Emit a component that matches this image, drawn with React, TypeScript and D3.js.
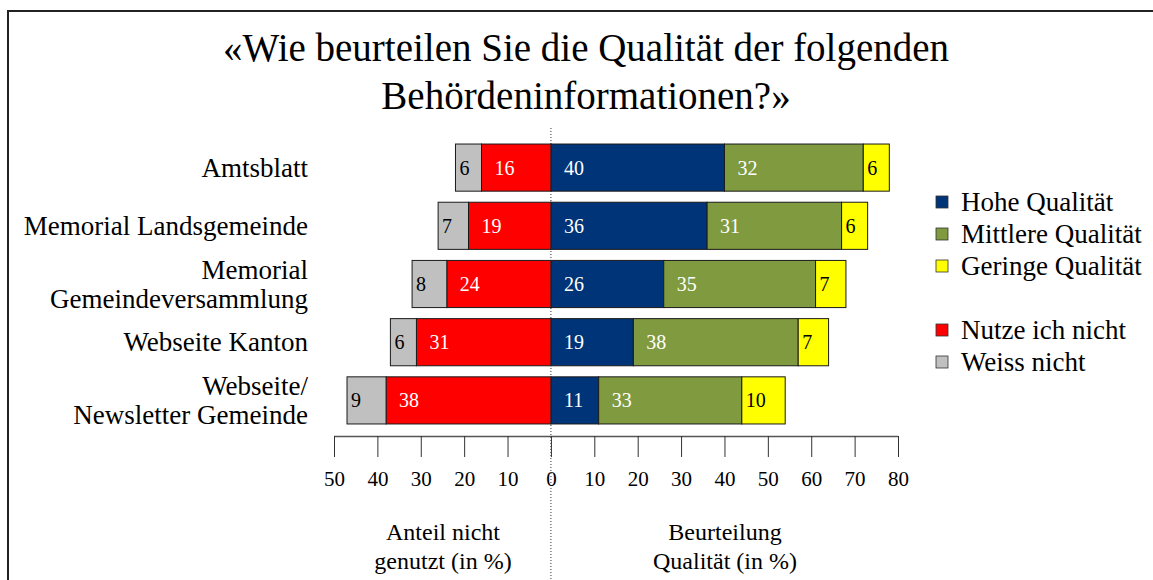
import React, { useRef, useEffect } from "react";
import * as d3 from "d3";

// categories (label lines split with "\n")
const categories = [
  "Amtsblatt",
  "Memorial Landsgemeinde",
  "Memorial\nGemeindeversammlung",
  "Webseite Kanton",
  "Webseite/\nNewsletter Gemeinde",
];

// right side: quality rating
const hohe = [40, 36, 26, 19, 11];
const mittlere = [32, 31, 35, 38, 33];
const geringe = [6, 6, 7, 7, 10];
// left side: not used
const nutzeNicht = [16, 19, 24, 31, 38];
const weissNicht = [6, 7, 8, 6, 9];

const tickValues = [-50, -40, -30, -20, -10, 0, 10, 20, 30, 40, 50, 60, 70, 80];

const titleLines = ["«Wie beurteilen Sie die Qualität der folgenden", "Behördeninformationen?»"];
const legendItems = [
  { label: "Hohe Qualität", color: "#003478" },
  { label: "Mittlere Qualität", color: "#7F9A3F" },
  { label: "Geringe Qualität", color: "#FFFF00" },
  null,
  { label: "Nutze ich nicht", color: "#FF0000" },
  { label: "Weiss nicht", color: "#C0C0C0" },
];

const W = 1153;
const H = 580;
const FONT = "'Liberation Serif', 'Times New Roman', serif";

function App() {
  const svgRef = useRef<SVGSVGElement>(null);

  useEffect(() => {
    const svg = d3.select(svgRef.current);
    svg.selectAll("*").remove();

    const x = d3.scaleLinear().domain([-50, 80]).range([334, 898]);
    const y = d3
      .scaleBand<number>()
      .domain(d3.range(categories.length))
      .range([138.5, 429.5])
      .paddingInner(0.19)
      .paddingOuter(0.095);

    // frame (top + left only visible)
    svg.append("path")
      .attr("d", `M8,${H} L8,11 L${W},11`)
      .attr("fill", "none")
      .attr("stroke", "#222")
      .attr("stroke-width", 2);

    // title
    svg.append("g")
      .selectAll("text")
      .data(titleLines)
      .join("text")
      .attr("x", 586)
      .attr("y", (d, i) => 61 + i * 48)
      .attr("text-anchor", "middle")
      .attr("font-family", FONT)
      .attr("font-size", 39)
      .text((d) => d);

    // build segments
    type Seg = { row: number; x0: number; x1: number; v: number; color: string; dark: boolean };
    const segs: Seg[] = [];
    categories.forEach((_, i) => {
      let acc = 0;
      [
        [hohe[i], "#003478", true],
        [mittlere[i], "#7F9A3F", true],
        [geringe[i], "#FFFF00", false],
      ].forEach(([v, c, dark]) => {
        segs.push({ row: i, x0: acc, x1: acc + (v as number), v: v as number, color: c as string, dark: dark as boolean });
        acc += v as number;
      });
      let left = 0;
      [
        [nutzeNicht[i], "#FF0000", true],
        [weissNicht[i], "#C0C0C0", false],
      ].forEach(([v, c, dark]) => {
        segs.push({ row: i, x0: -(left + (v as number)), x1: -left, v: v as number, color: c as string, dark: dark as boolean });
        left += v as number;
      });
    });

    const bars = svg.append("g");
    bars.selectAll("rect")
      .data(segs)
      .join("rect")
      .attr("x", (d) => x(d.x0))
      .attr("y", (d) => y(d.row)!)
      .attr("width", (d) => x(d.x1) - x(d.x0))
      .attr("height", y.bandwidth())
      .attr("fill", (d) => d.color)
      .attr("stroke", "#1a1a1a")
      .attr("stroke-width", 1);

    bars.selectAll("text")
      .data(segs)
      .join("text")
      .attr("x", (d) => x(d.x0) + (x(d.x1) - x(d.x0) < 45 ? 4 : 13))
      .attr("y", (d) => y(d.row)! + y.bandwidth() / 2 + 7)
      .attr("font-family", FONT)
      .attr("font-size", 20)
      .attr("fill", (d) => (d.dark ? "#fff" : "#000"))
      .text((d) => d.v);

    // zero dotted line
    svg.append("line")
      .attr("x1", x(0)).attr("x2", x(0))
      .attr("y1", 128).attr("y2", H)
      .attr("stroke", "#333")
      .attr("stroke-width", 1)
      .attr("stroke-dasharray", "1,2");

    // category labels
    svg.append("g")
      .selectAll("text")
      .data(categories)
      .join("text")
      .attr("text-anchor", "end")
      .attr("font-family", FONT)
      .attr("font-size", 27)
      .each(function (d, i) {
        const lines = d.split("\n");
        const cy = y(i)! + y.bandwidth() / 2;
        const t = d3.select(this);
        lines.forEach((ln, j) => {
          t.append("tspan")
            .attr("x", 308)
            .attr("y", cy + 9 + (j - (lines.length - 1) / 2) * 29)
            .text(ln);
        });
      });

    // axis
    const axis = d3.axisBottom(x)
      .tickValues(tickValues)
      .tickSize(21)
      .tickPadding(14)
      .tickFormat((d) => String(Math.abs(d as number)));
    const ag = svg.append("g").attr("transform", "translate(0,436)").call(axis);
    ag.select(".domain").attr("d", `M${x(-50)},0.5H${x(80)}`).attr("stroke", "#555").attr("stroke-width", 1.5);
    ag.selectAll(".tick line").attr("stroke", "#333");
    ag.selectAll(".tick text")
      .attr("font-family", FONT)
      .attr("font-size", 21)
      .attr("fill", "#000");

    // bottom axis captions
    const captions = [
      { cx: 443, lines: ["Anteil nicht", "genutzt (in %)"] },
      { cx: 725, lines: ["Beurteilung", "Qualität (in %)"] },
    ];
    captions.forEach((c) => {
      c.lines.forEach((ln, j) => {
        svg.append("text")
          .attr("x", c.cx)
          .attr("y", 540 + j * 29)
          .attr("text-anchor", "middle")
          .attr("font-family", FONT)
          .attr("font-size", 24)
          .text(ln);
      });
    });

    // legend
    const lg = svg.append("g");
    let ly = 202;
    legendItems.forEach((it) => {
      if (it) {
        lg.append("rect")
          .attr("x", 936).attr("y", ly - 6)
          .attr("width", 12).attr("height", 12)
          .attr("fill", it.color)
          .attr("stroke", "#333")
          .attr("stroke-width", 0.8);
        lg.append("text")
          .attr("x", 961).attr("y", ly + 9)
          .attr("font-family", FONT)
          .attr("font-size", 27)
          .text(it.label);
      }
      ly += 32;
    });
  }, []);

  return (
    <svg
      ref={svgRef}
      width={W}
      height={H}
      style={{ position: "absolute", left: 0, top: 0, background: "#fff" }}
    />
  );
}

export default App;
